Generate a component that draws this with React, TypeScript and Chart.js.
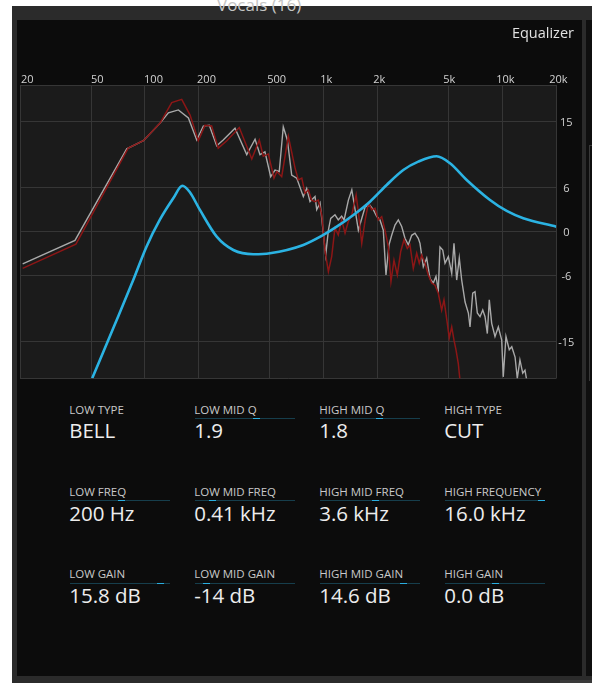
import React, { useEffect, useRef } from "react";
import { Chart, registerables } from "chart.js";

Chart.register(...registerables);

// ---------- data ----------
const freqTicks = [20, 50, 100, 200, 500, 1000, 2000, 5000, 10000, 20000];
const freqTickLabels = ["20", "50", "100", "200", "500", "1k", "2k", "5k", "10k", "20k"];
const gainTicks = [15, 6, 0, -6, -15];
const gainTickLabels = ["15", "6", "0", "-6", "-15"];
const gainRange = [-20, 20];
const freqRange = [20, 20000];

// EQ response curve [Hz, dB]
const eqCurve: number[][] = [
  [50.7, -20.0], [68, -12.6], [86, -6.6], [102, -2.05], [121, 1.6], [144, 4.55],
  [162, 6.25], [178, 5.4], [203, 2.96], [252, -0.68], [312, -2.5], [404, -3.08],
  [500, -2.95], [769, -1.81], [995, -0.45], [1182, 0.68], [1466, 2.28], [1814, 4.09],
  [2250, 6.37], [2786, 8.41], [3380, 9.55], [4285, 10.28], [5085, 9.33], [6306, 7.05],
  [8515, 4.32], [10555, 2.82], [13070, 1.83], [20000, 0.68],
];

// Input spectrum (grey) [Hz, dB]
const inputSpectrum: number[][] = [
  [20.7, -4.4], [40.6, -1.2], [79.1, 11.3], [98, 12.4], [121.5, 14.8], [135.2, 16.2],
  [153.8, 16.6], [175, 15.5], [194.8, 12.5], [212, 14.4], [229, 14.5], [252, 11.7],
  [274, 12.5], [319, 14.1], [371, 10.5], [413, 12.6], [440, 10.5], [469, 10.9],
  [505, 7.5], [534, 8.4], [564, 8.2], [594, 14.3], [626, 12.5], [662, 7.7],
  [706, 7.3], [769, 4.8], [803, 5.9], [838, 4.1], [894, 4.8], [914, 3.0],
  [954, 3.9], [995, -0.2], [1026, -3.2], [1062, 0.2], [1094, 1.8], [1156, 2.3],
  [1206, 1.6], [1260, 2.1], [1300, 1.6], [1374, 4.3], [1436, 5.7], [1498, 3.0],
  [1562, 0.2], [1632, 1.8], [1706, 3.4], [1814, 3.6], [1894, 3.0], [1978, 2.1],
  [2064, 1.6], [2154, 0.2], [2230, -5.9], [2318, -1.8], [2400, -0.5], [2504, 0.9],
  [2614, 1.6], [2730, 0.7], [2848, -0.9], [2972, -1.8], [3106, -0.5], [3240, -0.2],
  [3380, -0.9], [3456, -1.6], [3606, -4.8], [3768, -3.6], [3932, -6.4], [4102, -7.0],
  [4246, -6.1], [4374, -8.0], [4470, -2.1], [4632, -2.5], [4770, -4.3], [4980, -3.4],
  [5200, -5.7], [5354, -1.6], [5544, -6.6], [5732, -3.6], [5914, -6.6], [6176, -9.6],
  [6444, -11.1], [6582, -13.0], [6814, -8.4], [7018, -8.2], [7232, -11.1], [7490, -11.6],
  [7756, -10.7], [7986, -11.6], [8226, -13.9], [8438, -9.3], [8702, -12.5], [9082, -14.3],
  [9478, -13.0], [9900, -14.8], [10100, -19.8], [10460, -14.3], [10910, -16.1], [11270, -15.7],
  [11760, -17.1], [12100, -20.0], [12520, -17.5], [12980, -19.3], [13360, -18.9], [13810, -20.9],
];

// Output spectrum (red) [Hz, dB]
const outputSpectrum: number[][] = [
  [20.7, -5.0], [41.1, -1.7], [80.6, 11.4], [98, 12.4], [121.5, 14.8], [141.2, 17.6],
  [160.6, 18.05], [178.8, 15.9], [198.8, 12.4], [216.6, 14.5], [236, 14.4], [257, 11.4],
  [287, 12.4], [337, 14.2], [396, 9.9], [436, 12.5], [459, 10.3], [490, 10.6],
  [527, 7.3], [547, 8.2], [582, 7.5], [634, 13.0], [691, 8.7], [721, 7.05],
  [754, 7.3], [786, 5.2], [820, 5.7], [856, 4.3], [894, 4.1], [932, 4.3],
  [975, 2.3], [1018, -2.7], [1062, -5.45], [1108, -3.4], [1156, 0.5], [1206, -0.45],
  [1260, 1.6], [1316, -0.2], [1374, 1.4], [1436, 2.3], [1518, 5.0], [1562, 2.7],
  [1632, -1.6], [1706, 1.6], [1778, 3.9], [1856, 3.0], [1936, 3.2], [2020, 1.6],
  [2110, 2.05], [2202, 0.2], [2298, -2.05], [2378, -6.8], [2472, -3.9], [2580, -5.9],
  [2696, -2.7], [2812, -1.1], [2934, -2.3], [3038, -1.8], [3170, -5.0], [3312, -2.95],
  [3424, -4.3], [3532, -3.2], [3686, -4.3], [3844, -5.9], [4018, -7.0], [4192, -7.3],
  [4374, -8.4], [4568, -10.7], [4706, -9.3], [4880, -12.0], [5038, -14.5], [5200, -13.0],
  [5354, -14.8], [5492, -16.1], [5658, -17.95], [5780, -20.2], [5860, -21.6],
];

// Parameter panel
const paramLabels = [
  ["LOW TYPE", "LOW MID Q", "HIGH MID Q", "HIGH TYPE"],
  ["LOW FREQ", "LOW MID FREQ", "HIGH MID FREQ", "HIGH FREQUENCY"],
  ["LOW GAIN", "LOW MID GAIN", "HIGH MID GAIN", "HIGH GAIN"],
];
const paramValues = [
  ["BELL", "1.9", "1.8", "CUT"],
  ["200 Hz", "0.41 kHz", "3.6 kHz", "16.0 kHz"],
  ["15.8 dB", "-14 dB", "14.6 dB", "0.0 dB"],
];
const paramLevels: (number | null)[][] = [
  [null, 0.62, 0.6, null],
  [0.52, 0.15, 0.56, 1.0],
  [0.94, 0.09, 0.86, 0.5],
];

const FONT = '"Open Sans", "Noto Sans", sans-serif';

const bgPlugin = {
  id: "plotBg",
  beforeDraw(chart: any) {
    const { ctx, chartArea } = chart;
    ctx.save();
    ctx.fillStyle = "#1b1b1b";
    ctx.fillRect(chartArea.left, chartArea.top, chartArea.right - chartArea.left, chartArea.bottom - chartArea.top);
    ctx.restore();
  },
};

const labelPlugin = {
  id: "axisLabels",
  afterDraw(chart: any) {
    const { ctx, chartArea } = chart;
    const xs = chart.scales.x;
    const ys = chart.scales.y;
    ctx.save();
    ctx.font = `11px ${FONT}`;
    ctx.fillStyle = "#d2d2d2";
    ctx.textBaseline = "alphabetic";
    ctx.textAlign = "left";
    freqTicks.forEach((v, i) => {
      const px = xs.getPixelForValue(v);
      const lx = chartArea.left + 1 + (px - chartArea.left) * 0.985;
      ctx.fillText(freqTickLabels[i], lx, chartArea.top - 2);
    });
    ctx.textAlign = "center";
    gainTicks.forEach((v, i) => {
      const py = ys.getPixelForValue(v);
      ctx.fillText(gainTickLabels[i], chartArea.right + 10, py + 4);
    });
    ctx.restore();
  },
};

function EqChart() {
  const ref = useRef<HTMLCanvasElement | null>(null);
  useEffect(() => {
    if (!ref.current) return;
    const toXY = (arr: number[][]) => arr.map(([x, y]) => ({ x, y }));
    const chart = new Chart(ref.current, {
      type: "line",
      data: {
        datasets: [
          {
            label: "EQ",
            data: toXY(eqCurve),
            borderColor: "#2bb3e3",
            borderWidth: 2.6,
            pointRadius: 0,
            cubicInterpolationMode: "monotone",
            clip: 0,
          },
          {
            label: "Output",
            data: toXY(outputSpectrum),
            borderColor: "#8c1616",
            borderWidth: 1.5,
            pointRadius: 0,
            tension: 0,
            clip: 0,
          },
          {
            label: "Input",
            data: toXY(inputSpectrum),
            borderColor: "#a9a9a9",
            borderWidth: 1.4,
            pointRadius: 0,
            tension: 0,
            clip: 0,
          },
        ],
      } as any,
      options: {
        animation: false,
        responsive: false,
        maintainAspectRatio: false,
        devicePixelRatio: 1,
        layout: { padding: { left: 3, top: 65, right: 26.7, bottom: 11.7 } },
        plugins: { legend: { display: false }, tooltip: { enabled: false } },
        scales: {
          x: {
            type: "logarithmic",
            position: "top",
            min: freqRange[0],
            max: freqRange[1],
            afterBuildTicks: (s: any) => {
              s.ticks = freqTicks.map((v) => ({ value: v }));
            },
            ticks: { display: false },
            grid: { color: "#363636", lineWidth: 1, drawTicks: false },
            border: { display: false },
          },
          y: {
            type: "linear",
            min: gainRange[0],
            max: gainRange[1],
            afterBuildTicks: (s: any) => {
              s.ticks = [gainRange[0], ...gainTicks, gainRange[1]].map((v) => ({ value: v }));
            },
            ticks: { display: false },
            grid: { color: "#363636", lineWidth: 1, drawTicks: false },
            border: { display: false },
          },
        },
      } as any,
      plugins: [bgPlugin, labelPlugin],
    });
    return () => chart.destroy();
  }, []);
  return (
    <canvas
      ref={ref}
      width={566}
      height={370}
      style={{ position: "absolute", left: 17, top: 20, width: 566, height: 370 }}
    />
  );
}

const colX = [70, 195, 320, 445];
const rowTop = [403.8, 486.1, 568.4];

export default function App() {
  return (
    <div
      style={{
        position: "absolute",
        left: 0,
        top: 0,
        width: 592,
        height: 683,
        background: "#ffffff",
        overflow: "hidden",
        fontFamily: FONT,
      }}
    >
      {/* outer frame */}
      <div style={{ position: "absolute", left: 12, top: 6, width: 580, height: 677, background: "#2b2b2b" }} />
      <div
        style={{
          position: "absolute",
          left: 217,
          top: -3.6,
          fontSize: 17,
          lineHeight: "17px",
          color: "#c4c4c4",
          whiteSpace: "nowrap",
        }}
      >
        Vocals (16)
      </div>
      {/* main panel */}
      <div style={{ position: "absolute", left: 17, top: 20, width: 565, height: 656, background: "#0c0c0c" }} />
      {/* right neighbour panel */}
      <div style={{ position: "absolute", left: 586, top: 20, width: 6, height: 656, background: "#0f0f0f" }} />
      <div
        style={{
          position: "absolute",
          left: 589,
          top: 145,
          width: 4,
          height: 235,
          borderLeft: "1px solid #3a3a3a",
          borderTop: "1px solid #3a3a3a",
        }}
      />
      <div style={{ position: "absolute", left: 560, top: 680, width: 32, height: 3, background: "#3a3a3a" }} />

      <EqChart />

      <div
        style={{
          position: "absolute",
          right: 18,
          top: 26.4,
          fontSize: 14.5,
          lineHeight: "14.5px",
          color: "#e2e2e2",
          whiteSpace: "nowrap",
        }}
      >
        Equalizer
      </div>

      {paramLabels.map((row, r) =>
        row.map((lab, c) => {
          const x = colX[c];
          const y = rowTop[r];
          const lvl = paramLevels[r][c];
          return (
            <React.Fragment key={`${r}-${c}`}>
              <div
                style={{
                  position: "absolute",
                  left: x - 0.8,
                  top: y,
                  fontSize: 11.5,
                  lineHeight: "11.5px",
                  color: "#c9c9c9",
                  whiteSpace: "nowrap",
                }}
              >
                {lab}
              </div>
              {lvl !== null && (
                <>
                  <div
                    style={{
                      position: "absolute",
                      left: x,
                      top: y + 14.2,
                      width: 100,
                      height: 1,
                      background: "#163e4c",
                    }}
                  />
                  <div
                    style={{
                      position: "absolute",
                      left: x + lvl * 93,
                      top: y + 14.2,
                      width: 7,
                      height: 1,
                      background: "#2aaee0",
                    }}
                  />
                </>
              )}
              <div
                style={{
                  position: "absolute",
                  left: x - 0.8,
                  top: y + 16.6,
                  fontSize: 20.5,
                  lineHeight: "20.5px",
                  color: "#ededed",
                  whiteSpace: "nowrap",
                }}
              >
                {paramValues[r][c]}
              </div>
            </React.Fragment>
          );
        })
      )}
    </div>
  );
}
